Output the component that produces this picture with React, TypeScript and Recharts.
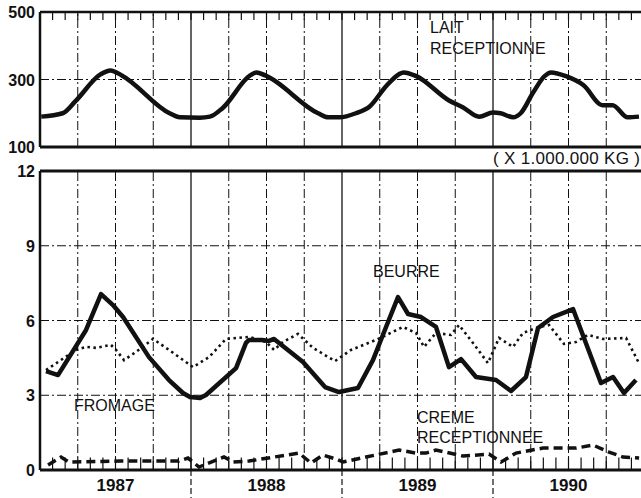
import { LineChart, Line, XAxis, YAxis, ReferenceLine } from 'recharts';

// months are counted from Jan 1987 (0) to Jan 1991 (48)
const YEARS = ['1987', '1988', '1989', '1990'];

// LAIT RECEPTIONNE (top panel)
const laitMonths = [0.1, 1.8, 2.8, 4.8, 5.6, 6.5, 10.3, 11.1, 12.7, 13.5, 14.5, 16.7, 17.2, 17.9, 22.1, 22.9, 23.8, 25.1, 26.2, 27.5, 28.5, 28.9, 29.9, 32.5, 33.6, 34.9, 36.0, 36.6, 37.6, 38.2, 39.2, 40.1, 40.6, 41.8, 43.2, 44.7, 45.5, 46.7, 47.6];
const laitValues = [190, 200, 235, 315, 327, 312, 200, 188, 187, 190, 215, 312, 321, 312, 200, 188, 188, 200, 220, 280, 315, 321, 310, 238, 218, 190, 202, 200, 188, 200, 262, 310, 321, 310, 283, 224, 224, 188, 190];

// BEURRE
const beurreMonths = [0.48, 1.43, 3.66, 4.85, 5.8, 6.6, 8.66, 10.25, 11.36, 11.92, 12.72, 13.19, 15.58, 16.37, 16.61, 17.64, 18.2, 18.6, 20.9, 22.65, 23.76, 25.27, 26.46, 27.5, 28.45, 29.25, 30.28, 31.47, 32.5, 33.46, 34.65, 36.24, 37.43, 38.62, 39.58, 40.77, 42.36, 44.58, 45.54, 46.41, 47.36];
const beurreValues = [3.97, 3.81, 5.62, 7.06, 6.62, 6.14, 4.53, 3.61, 3.09, 2.93, 2.89, 3.01, 4.09, 5.1, 5.22, 5.22, 5.18, 5.26, 4.33, 3.33, 3.13, 3.29, 4.41, 5.74, 6.94, 6.26, 6.14, 5.74, 4.13, 4.45, 3.73, 3.61, 3.17, 3.73, 5.7, 6.14, 6.46, 3.49, 3.73, 3.09, 3.61];

// FROMAGE
const fromageMonths = [0.48, 2.86, 3.66, 4.45, 5.64, 6.04, 6.68, 7.63, 8.98, 10.25, 12.16, 13.43, 14.78, 16.61, 17.96, 18.6, 19.31, 20.5, 21.7, 23.44, 24.72, 26.7, 28.85, 29.88, 30.52, 31.47, 32.66, 33.3, 34.41, 35.6, 36.48, 37.59, 38.38, 39.66, 40.45, 41.64, 42.6, 43.55, 44.74, 46.57, 47.6];
const fromageValues = [4.01, 4.82, 4.94, 4.9, 5.02, 4.82, 4.41, 4.74, 5.26, 4.82, 4.13, 4.53, 5.26, 5.34, 5.14, 4.82, 5.14, 5.46, 4.9, 4.37, 4.82, 5.22, 5.74, 5.5, 4.94, 5.5, 5.42, 5.82, 5.1, 4.29, 5.3, 4.94, 5.5, 5.74, 5.82, 5.06, 5.14, 5.42, 5.26, 5.3, 4.29];

// CREME RECEPTIONNEE
const cremeMonths = [0.64, 1.67, 2.3, 6.36, 11.05, 11.76, 12.64, 13.99, 14.62, 15.34, 16.61, 20.58, 21.54, 22.49, 23.52, 24.08, 25.91, 28.53, 29.88, 30.68, 31.47, 33.62, 35.68, 36.64, 37.83, 39.97, 42.6, 43.95, 45.22, 46.33, 47.61];
const cremeValues = [0.2, 0.52, 0.32, 0.36, 0.36, 0.48, 0.12, 0.4, 0.52, 0.32, 0.36, 0.68, 0.28, 0.6, 0.44, 0.32, 0.52, 0.8, 0.68, 0.68, 0.8, 0.56, 0.64, 0.32, 0.68, 0.88, 0.88, 1.0, 0.72, 0.52, 0.48];

const toRows = (ms: number[], vs: number[]) => ms.map((m, i) => ({ m, v: vs[i] }));
const laitData = toRows(laitMonths, laitValues);
const beurreData = toRows(beurreMonths, beurreValues);
const fromageData = toRows(fromageMonths, fromageValues);
const cremeData = toRows(cremeMonths, cremeValues);

const monthMarks = Array.from({ length: 47 }, (_, i) => i + 1);
const quarterMarks = monthMarks.filter(m => m % 3 === 0 && m % 12 !== 0);
const yearMarks = [12, 24, 36];

const FONT = '"Liberation Sans", Arial, Helvetica, sans-serif';
const INK = '#111';
const GRID_DASH = '9 3 2 3';

const YTick = ({ x, y, payload }: any) => (
  <text x={x} y={y} dy={6} textAnchor="end" fontFamily={FONT} fontWeight="bold" fontSize={16} fill={INK}>
    {payload.value}
  </text>
);

const XTick = ({ x, y, payload }: any) => {
  const m = payload.value;
  if (m % 12 === 0) {
    return <line x1={x} x2={x} y1={y} y2={y + 30} stroke={INK} strokeWidth={1.2} strokeDasharray="6 3" />;
  }
  return (
    <text x={x} y={y + 21} textAnchor="middle" fontFamily={FONT} fontWeight="bold" fontSize={17} fill={INK}>
      {YEARS[Math.floor(m / 12)]}
    </text>
  );
};

const label = (text: string, left: number, top: number, size = 16, spacing = 0) => (
  <div style={{ position: 'absolute', left, top, fontFamily: FONT, fontSize: size, lineHeight: '16px', letterSpacing: spacing, color: INK, whiteSpace: 'nowrap' }}>
    {text}
  </div>
);

export default function App() {
  return (
    <div style={{ position: 'absolute', left: 0, top: 0, width: 641, height: 498, overflow: 'hidden', background: '#fff' }}>
      {/* top panel: LAIT */}
      <div style={{ position: 'absolute', left: 0, top: 0 }}>
        <LineChart width={650} height={160} margin={{ top: 12, right: 6, left: 0, bottom: 13 }}>
          <XAxis type="number" dataKey="m" domain={[0, 48]} hide allowDataOverflow />
          <YAxis type="number" domain={[100, 500]} ticks={[100, 300, 500]} width={40} tickSize={0} tickMargin={5}
            tick={<YTick />} axisLine={{ stroke: INK, strokeWidth: 2.5 }} />
          <ReferenceLine y={300} stroke={INK} strokeWidth={1} strokeDasharray={GRID_DASH} />
          {quarterMarks.map(m => <ReferenceLine key={'q' + m} x={m} stroke={INK} strokeWidth={1} strokeDasharray={GRID_DASH} />)}
          {yearMarks.map(m => <ReferenceLine key={'y' + m} x={m} stroke={INK} strokeWidth={1.3} />)}
          {monthMarks.map(m => <ReferenceLine key={'t' + m} segment={[{ x: m, y: 500 }, { x: m, y: 476 }]} stroke={INK} strokeWidth={1.2} />)}
          <ReferenceLine y={500} stroke={INK} strokeWidth={2.5} />
          <ReferenceLine y={100} stroke={INK} strokeWidth={3} />
          <Line data={laitData} dataKey="v" type="monotone" stroke={INK} strokeWidth={4.5} dot={false} isAnimationActive={false} />
        </LineChart>
      </div>

      {/* bottom panel: BEURRE, FROMAGE, CREME */}
      <div style={{ position: 'absolute', left: 0, top: 160 }}>
        <LineChart width={650} height={338} margin={{ top: 11, right: 6, left: 0, bottom: 0 }}>
          <XAxis type="number" dataKey="m" domain={[0, 48]} ticks={[6, 12, 18, 24, 30, 36, 42]} height={28}
            tickSize={0} tickMargin={0} tick={<XTick />} axisLine={{ stroke: INK, strokeWidth: 3 }} allowDataOverflow />
          <YAxis type="number" domain={[0, 12]} ticks={[0, 3, 6, 9, 12]} width={40} tickSize={0} tickMargin={5}
            tick={<YTick />} axisLine={{ stroke: INK, strokeWidth: 2.5 }} />
          {[3, 6, 9].map(v => <ReferenceLine key={'h' + v} y={v} stroke={INK} strokeWidth={1} strokeDasharray={GRID_DASH} />)}
          {quarterMarks.map(m => <ReferenceLine key={'q' + m} x={m} stroke={INK} strokeWidth={1} strokeDasharray={GRID_DASH} />)}
          {yearMarks.map(m => <ReferenceLine key={'y' + m} x={m} stroke={INK} strokeWidth={1.3} />)}
          {monthMarks.map(m => <ReferenceLine key={'t' + m} segment={[{ x: m, y: 0 }, { x: m, y: 0.5 }]} stroke={INK} strokeWidth={1.2} />)}
          <ReferenceLine y={12} stroke={INK} strokeWidth={3} />
          <Line data={fromageData} dataKey="v" type="linear" stroke={INK} strokeWidth={2.6} strokeDasharray="2.5 3.5" dot={false} isAnimationActive={false} />
          <Line data={cremeData} dataKey="v" type="linear" stroke={INK} strokeWidth={3.5} strokeDasharray="9 5" dot={false} isAnimationActive={false} />
          <Line data={beurreData} dataKey="v" type="linear" stroke={INK} strokeWidth={4.5} strokeLinejoin="round" dot={false} isAnimationActive={false} />
        </LineChart>
      </div>

      {label('LAIT', 430, 20)}
      {label('RECEPTIONNE', 430, 41)}
      {label('( X 1.000.000 KG )', 493, 151, 17, 0.3)}
      {label('BEURRE', 373, 264)}
      {label('FROMAGE', 74, 398)}
      {label('CREME', 417, 410)}
      {label('RECEPTIONNEE', 417, 430)}
    </div>
  );
}
